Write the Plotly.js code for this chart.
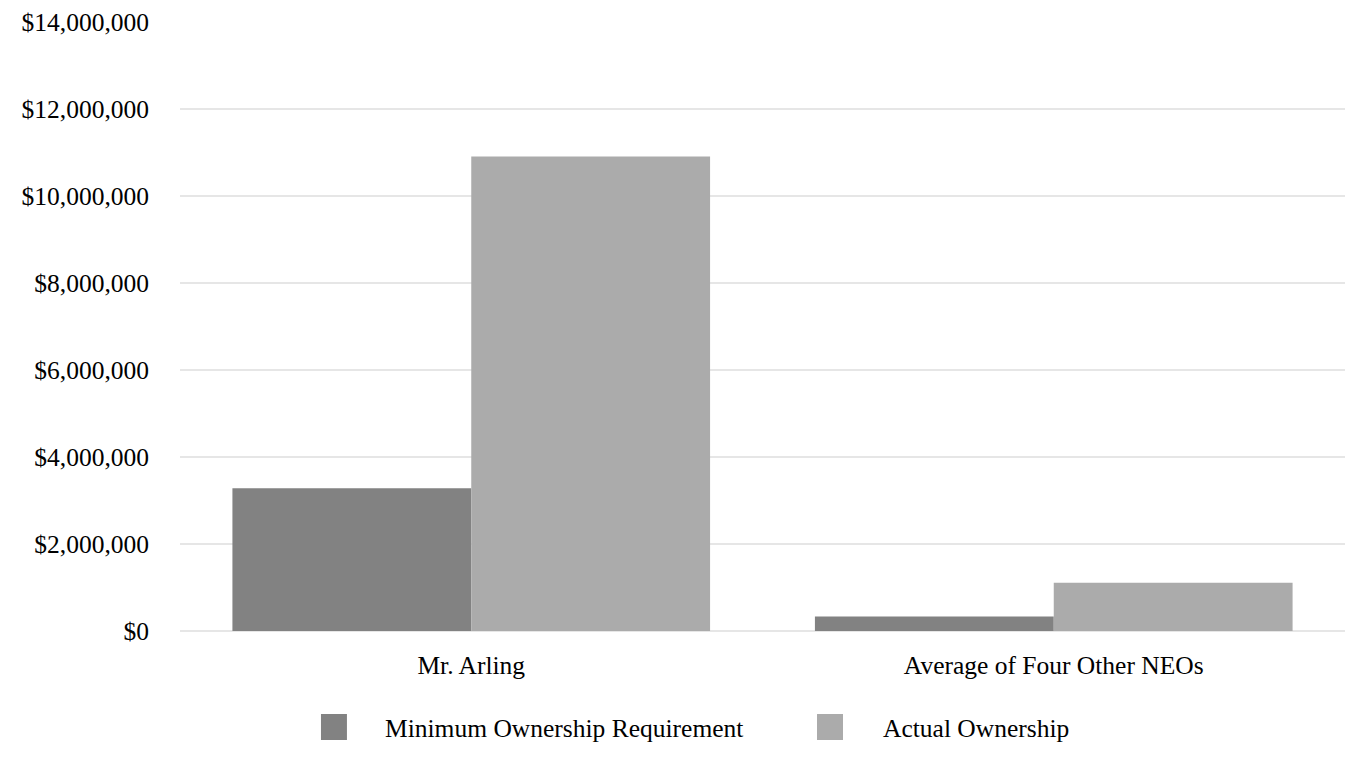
<!DOCTYPE html>
<html>
<head>
<meta charset="utf-8">
<script src="https://cdn.plot.ly/plotly-3.0.1.min.js"></script>
<style>html,body{margin:0;padding:0;background:#fff;}#chart{width:1364px;height:772px;}</style>
</head>
<body>
<div id="chart"></div>
<script>
const categories = ["Mr. Arling", "Average of Four Other NEOs"];
const seriesNames = ["Minimum Ownership Requirement", "Actual Ownership"];
const minimumRequirement = [3280000, 335000];
const actualOwnership = [10910000, 1110000];
const tickValues = [0, 2000000, 4000000, 6000000, 8000000, 10000000, 12000000, 14000000];
const tickLabels = ["$0", "$2,000,000", "$4,000,000", "$6,000,000", "$8,000,000", "$10,000,000", "$12,000,000", "$14,000,000"];
const colors = ["#828282", "#ababab"];

const font = {family: "Liberation Serif, Times New Roman, serif", size: 25.5, color: "#000"};

const traces = [
  {type: "bar", x: categories, y: minimumRequirement, name: seriesNames[0], marker: {color: colors[0]}, hoverinfo: "skip"},
  {type: "bar", x: categories, y: actualOwnership, name: seriesNames[1], marker: {color: colors[1]}, hoverinfo: "skip"}
];

// Legend drawn in paper coordinates (plot area: x 180..1345, y 22..631 px)
const legendSymbolX = [[0.1210, 0.1433], [0.5468, 0.5691]];
const legendTextX = [0.1745, 0.6020];
const legendSymbolY = [-0.1790, -0.1363];
const legendTextY = -0.1600;

const shapes = seriesNames.map((n, i) => ({
  type: "rect", xref: "paper", yref: "paper",
  x0: legendSymbolX[i][0], x1: legendSymbolX[i][1],
  y0: legendSymbolY[0], y1: legendSymbolY[1],
  fillcolor: colors[i], line: {width: 0}
}));
const annotations = seriesNames.map((n, i) => ({
  xref: "paper", yref: "paper", x: legendTextX[i], y: legendTextY,
  xanchor: "left", yanchor: "middle", text: n, showarrow: false, font: font
}));

const layout = {
  width: 1364, height: 772,
  margin: {l: 180, r: 19, t: 22, b: 141},
  paper_bgcolor: "#fff", plot_bgcolor: "#fff",
  font: font,
  barmode: "group",
  bargap: 0.18,
  bargroupgap: 0,
  showlegend: false,
  xaxis: {
    type: "category",
    showgrid: false, zeroline: false, showline: false,
    ticks: "", ticklabelstandoff: 16,
    tickfont: font
  },
  yaxis: {
    range: [0, 14000000],
    tickvals: tickValues, ticktext: tickLabels,
    showgrid: true, gridcolor: "#e6e6e6", gridwidth: 2,
    zeroline: true, zerolinecolor: "#e6e6e6", zerolinewidth: 2,
    showline: false, ticks: "", ticklabelstandoff: 30,
    tickfont: font
  },
  shapes: shapes,
  annotations: annotations
};

Plotly.newPlot("chart", traces, layout, {displayModeBar: false, staticPlot: true});
</script>
</body>
</html>
